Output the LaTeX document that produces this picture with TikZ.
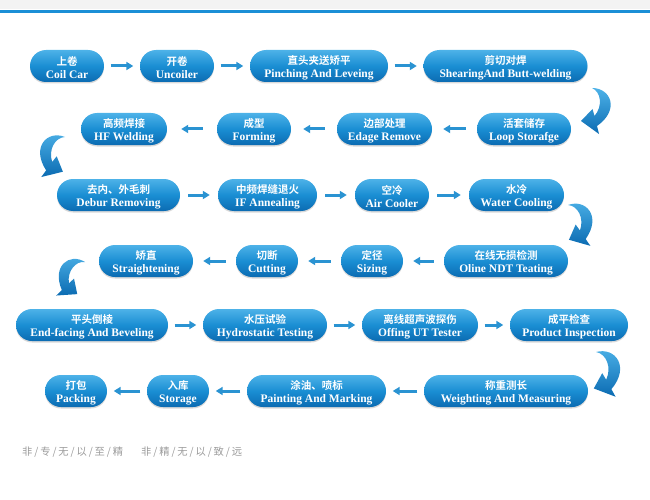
\documentclass[tikz,border=0pt]{standalone}
\usepackage{fontspec}
\setmainfont{Liberation Serif}
\newfontfamily\cjk{Noto Sans CJK SC}[BoldFont={Noto Sans CJK SC Bold}]
\usetikzlibrary{arrows.meta,shadows}
\definecolor{pilltop}{HTML}{4DB2E8}
\definecolor{pillmid}{HTML}{1A8ED3}
\definecolor{pillbot}{HTML}{0B6BB2}
\definecolor{flowblue}{HTML}{2A93D2}
\definecolor{rulecol}{HTML}{1B8FD6}
\definecolor{bandcol}{HTML}{F3F3F3}
\definecolor{mottocol}{HTML}{9A9A9A}
\newcommand\zh[1]{{\cjk\fontsize{10.5}{12.5}\selectfont\rule{0pt}{12.5pt}#1}}
\newcommand\sep{\hspace{1.9pt}/\hspace{1.9pt}}

\begin{document}
\begin{tikzpicture}[x=1pt,y=1pt]
\tikzstyle{stage}=[rounded corners=16pt, minimum height=32pt, inner sep=0pt,
  top color=pilltop, bottom color=pillbot, middle color=pillmid, text=white,
  align=center, font=\fontsize{11.5}{12.5}\selectfont\bfseries,
  drop shadow={shadow xshift=0pt, shadow yshift=-1.5pt, opacity=0.3}]
\tikzset{flow/.style={draw=flowblue, line width=3pt, -{Triangle[length=7pt,width=8pt]},
  shorten <=#1, shorten >=#1}, flow/.default=6.5pt}
\tikzset{turn/.pic={\shade[top color=pilltop, bottom color=pillbot]
  (0,0) .. controls (19,0) and (28,-22) .. (5,-38) -- (7,-46) -- (-11,-33)
  -- (0.5,-21) -- (2.5,-28) .. controls (11,-18) and (9,-4) .. cycle;}}
\useasboundingbox (0,0) rectangle (650,-500);
\fill [bandcol] (0,0) rectangle (650,-9);
\draw [rulecol, line width=2.5pt] (0,-11.5) -- (650,-11.5);
% row 1
\node [stage, minimum width=74pt] (coil) at (67,-66) {\zh{上卷}\\Coil Car};
\node [stage, minimum width=74pt] (uncoil) at (177,-66) {\zh{开卷}\\Uncoiler};
\node [stage, minimum width=138pt] (pinch) at (319,-66) {\zh{直头夹送矫平}\\Pinching And Leveing};
\node [stage, minimum width=164pt] (shear) at (505.5,-66) {\zh{剪切对焊}\\ShearingAnd Butt-welding};
\draw [flow] (coil) -- (uncoil);
\draw [flow] (uncoil) -- (pinch);
\draw [flow] (pinch) -- (shear);
\pic at (592,-88) {turn};
% row 2
\node [stage, minimum width=94pt] (loop) at (524,-129) {\zh{活套储存}\\Loop Storafge};
\node [stage, minimum width=95pt] (edge) at (384.5,-129) {\zh{边部处理}\\Edage Remove};
\node [stage, minimum width=74pt] (form) at (254,-129) {\zh{成型}\\Forming};
\node [stage, minimum width=86pt] (hfw) at (124,-129) {\zh{高频焊接}\\HF Welding};
\draw [flow=11pt] (loop) -- (edge);
\draw [flow=12pt] (edge) -- (form);
\draw [flow=14pt] (form) -- (hfw);
\pic [rotate=-22, xscale=-1] at (65,-137) {turn};
% row 3
\node [stage, minimum width=123pt] (debur) at (118.5,-195) {\zh{去内、外毛刺}\\Debur Removing};
\node [stage, minimum width=99pt] (ifann) at (267.5,-195) {\zh{中频焊缝退火}\\IF Annealing};
\node [stage, minimum width=74pt] (air) at (392,-195) {\zh{空冷}\\Air Cooler};
\node [stage, minimum width=95pt] (water) at (516.5,-195) {\zh{水冷}\\Water Cooling};
\draw [flow=8pt] (debur) -- (ifann);
\draw [flow=8pt] (ifann) -- (air);
\draw [flow=8pt] (air) -- (water);
\pic [rotate=20] at (568,-205) {turn};
% row 4
\node [stage, minimum width=124pt] (ndt) at (506,-261) {\zh{在线无损检测}\\Oline NDT Teating};
\node [stage, minimum width=62pt] (sizing) at (372,-261) {\zh{定径}\\Sizing};
\node [stage, minimum width=62pt] (cut) at (267,-261) {\zh{切断}\\Cutting};
\node [stage, minimum width=94pt] (straight) at (146,-261) {\zh{矫直}\\Straightening};
\draw [flow=10pt] (ndt) -- (sizing);
\draw [flow=10pt] (sizing) -- (cut);
\draw [flow=10pt] (cut) -- (straight);
\pic [rotate=-32, xscale=-1, scale=0.95] at (85,-262) {turn};
% row 5
\node [stage, minimum width=152pt] (endf) at (92,-325) {\zh{平头倒棱}\\End-facing And Beveling};
\node [stage, minimum width=124pt] (hydro) at (265,-325) {\zh{水压试验}\\Hydrostatic Testing};
\node [stage, minimum width=116pt] (offut) at (420,-325) {\zh{离线超声波探伤}\\Offing UT Tester};
\node [stage, minimum width=118pt] (prodin) at (569,-325) {\zh{成平检查}\\Product Inspection};
\draw [flow] (endf) -- (hydro);
\draw [flow] (hydro) -- (offut);
\draw [flow] (offut) -- (prodin);
\pic [rotate=15, scale=1.05] at (596,-352) {turn};
% row 6
\node [stage, minimum width=164pt] (weigh) at (506,-391) {\zh{称重测长}\\Weighting And Measuring};
\node [stage, minimum width=139pt] (paint) at (316.5,-391) {\zh{涂油、喷标}\\Painting And Marking};
\node [stage, minimum width=62pt] (stor) at (178,-391) {\zh{入库}\\Storage};
\node [stage, minimum width=62pt] (pack) at (76,-391) {\zh{打包}\\Packing};
\draw [flow] (weigh) -- (paint);
\draw [flow] (paint) -- (stor);
\draw [flow] (stor) -- (pack);
% motto
\node [anchor=west, inner sep=0pt, text=mottocol, font=\cjk\fontsize{10.3}{12}\selectfont] (motto) at (22,-452.5)
  {非\sep 专\sep 无\sep 以\sep 至\sep 精\hspace{18pt}非\sep 精\sep 无\sep 以\sep 致\sep 远};
\end{tikzpicture}
\end{document}
